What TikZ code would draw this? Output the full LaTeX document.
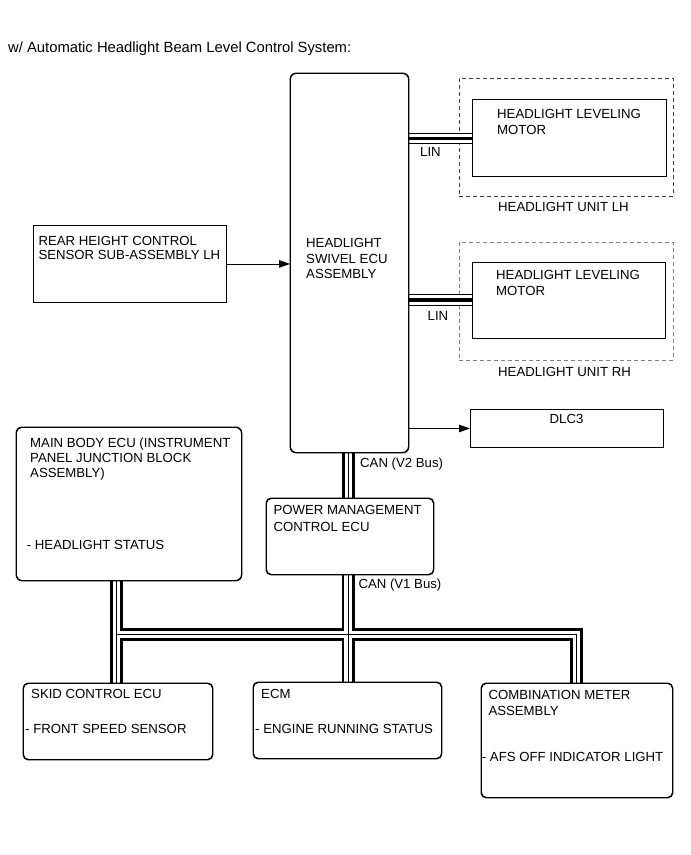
\documentclass[tikz,border=0pt]{standalone}
\usepackage{fontspec}
\setmainfont{Liberation Sans}
\usetikzlibrary{arrows.meta}
\begin{document}
\begin{tikzpicture}[x=1pt,y=-1pt,
  box/.style={draw=black, line width=0.9pt, fill=white, inner sep=0pt, anchor=north west},
  rbox/.style={box, rounded corners=6pt},
  unit/.style={draw=#1, line width=0.9pt, dash pattern=on 4pt off 3pt, inner sep=0pt, anchor=north west},
  lbl/.style={anchor=base west, inner sep=0pt, font=\fontsize{13.2}{15}\selectfont},
  ttl/.style={anchor=base west, inner sep=0pt, font=\fontsize{14.8}{17}\selectfont},
  canbus/.style={draw=black, line width=13pt,
    postaction={draw=white, line width=7.6pt},
    postaction={draw=black, line width=0.8pt}},
  linbus/.style={draw=black, line width=11.5pt,
    postaction={draw=white, line width=9.3pt},
    postaction={draw=black, line width=3.6pt}},
  arr/.style={draw=black, line width=0.9pt, -{Triangle[length=11pt,width=7.5pt]}}
]
\useasboundingbox (0,0) rectangle (691,855);

% bus junction coordinates
\coordinate (jL) at (116.5,634.5);
\coordinate (jM) at (348,634.5);
\coordinate (jR) at (576.5,634.5);
\coordinate (jV) at (348.5,470);
\coordinate (linL) at (440,138.5);
\coordinate (linR) at (440,300);

% boxes
\node[rbox, minimum width=118pt, minimum height=379pt] (swivel) at (290,73) {};
\node[unit=black!75, minimum width=214pt, minimum height=118pt] (lhunit) at (459,78) {};
\node[unit=black!50, minimum width=214pt, minimum height=118pt] (rhunit) at (459,242) {};
\node[box, minimum width=194pt, minimum height=77pt] (lhmotor) at (472,99) {};
\node[box, minimum width=193pt, minimum height=76pt] (rhmotor) at (472,262) {};
\node[box, minimum width=193pt, minimum height=38pt] (dlc) at (470,409) {};
\node[box, minimum width=193pt, minimum height=77pt] (rear) at (33,225) {};
\node[rbox, minimum width=225pt, minimum height=153pt] (mainbody) at (16,427) {};
\node[rbox, minimum width=167pt, minimum height=76pt, rounded corners=5pt] (pm) at (266,498) {};
\node[rbox, minimum width=189pt, minimum height=76pt, rounded corners=5pt] (skid) at (23,683) {};
\node[rbox, minimum width=188pt, minimum height=76pt, rounded corners=5pt] (ecm) at (253,682) {};
\node[rbox, minimum width=191pt, minimum height=114pt, rounded corners=5pt] (comb) at (481,683) {};

% buses
\draw[canbus] (swivel.south -| jV) -- (pm.north -| jV);
\draw[canbus] (pm.south -| jM) -- (ecm.north -| jM)
              (mainbody.south -| jL) -- (skid.north -| jL)
              (jL) -- (jR) -- (comb.north -| jR);
\draw[linbus] (linL -| swivel.east) -- (linL -| lhmotor.west);
\draw[linbus] (linR -| swivel.east) -- (linR -| rhmotor.west);

% redraw box borders on top of bus ends
\draw[line width=0.9pt, rounded corners=6pt] (swivel.north west) rectangle (swivel.south east);
\draw[line width=0.9pt, rounded corners=6pt] (mainbody.north west) rectangle (mainbody.south east);
\draw[line width=0.9pt, rounded corners=5pt] (pm.north west) rectangle (pm.south east);
\draw[line width=0.9pt, rounded corners=5pt] (skid.north west) rectangle (skid.south east);
\draw[line width=0.9pt, rounded corners=5pt] (ecm.north west) rectangle (ecm.south east);
\draw[line width=0.9pt, rounded corners=5pt] (comb.north west) rectangle (comb.south east);
\draw[line width=0.9pt] (lhmotor.north west) rectangle (lhmotor.south east);
\draw[line width=0.9pt] (rhmotor.north west) rectangle (rhmotor.south east);

% arrows
\draw[arr] (rear.east) -- (rear.east -| swivel.west);
\draw[arr] (dlc.west -| swivel.east) -- (dlc.west);

% texts
\node[ttl] (title) at (8,52) {w/ Automatic Headlight Beam Level Control System:};

\node[lbl] (sw1) at (306,247.4) {HEADLIGHT};
\node[lbl] (sw2) at (306,263.2) {SWIVEL ECU};
\node[lbl] (sw3) at (306,278.6) {ASSEMBLY};

\node[lbl] (lm1) at (497,118.3) {HEADLIGHT LEVELING};
\node[lbl] (lm2) at (497,134.2) {MOTOR};
\node[lbl] (lin1) at (420,156.7) {LIN};
\node[lbl] (lu) at (498,211.7) {HEADLIGHT UNIT LH};

\node[lbl] (rm1) at (496,279.5) {HEADLIGHT LEVELING};
\node[lbl] (rm2) at (496,295.8) {MOTOR};
\node[lbl] (lin2) at (427.5,320.7) {LIN};
\node[lbl] (ru) at (498,376.7) {HEADLIGHT UNIT RH};

\node[lbl] (dlct) at (549.5,423.3) {DLC3};

\node[lbl] (re1) at (38.3,245) {REAR HEIGHT CONTROL};
\node[lbl] (re2) at (38.3,259.6) {SENSOR SUB-ASSEMBLY LH};

\node[lbl] (mb1) at (30,447.3) {MAIN BODY ECU (INSTRUMENT};
\node[lbl] (mb2) at (30,462.6) {PANEL JUNCTION BLOCK};
\node[lbl] (mb3) at (30,477.8) {ASSEMBLY)};
\node[lbl] (mb4) at (26.7,549.3) {- HEADLIGHT STATUS};

\node[lbl] (pm1) at (273.3,514.3) {POWER MANAGEMENT};
\node[lbl] (pm2) at (273.3,531.2) {CONTROL ECU};

\node[lbl] (can2) at (360,467.6) {CAN (V2 Bus)};
\node[lbl] (can1) at (358.3,588.3) {CAN (V1 Bus)};

\node[lbl] (sk1) at (31,698.5) {SKID CONTROL ECU};
\node[lbl] (sk2) at (25,733.5) {- FRONT SPEED SENSOR};
\node[lbl] (ec1) at (261,698.5) {ECM};
\node[lbl] (ec2) at (255,733.5) {- ENGINE RUNNING STATUS};
\node[lbl] (cb1) at (488.3,699.3) {COMBINATION METER};
\node[lbl] (cb2) at (488.3,715.2) {ASSEMBLY};
\node[lbl] (cb3) at (481.7,761.7) {- AFS OFF INDICATOR LIGHT};
\end{tikzpicture}
\end{document}
